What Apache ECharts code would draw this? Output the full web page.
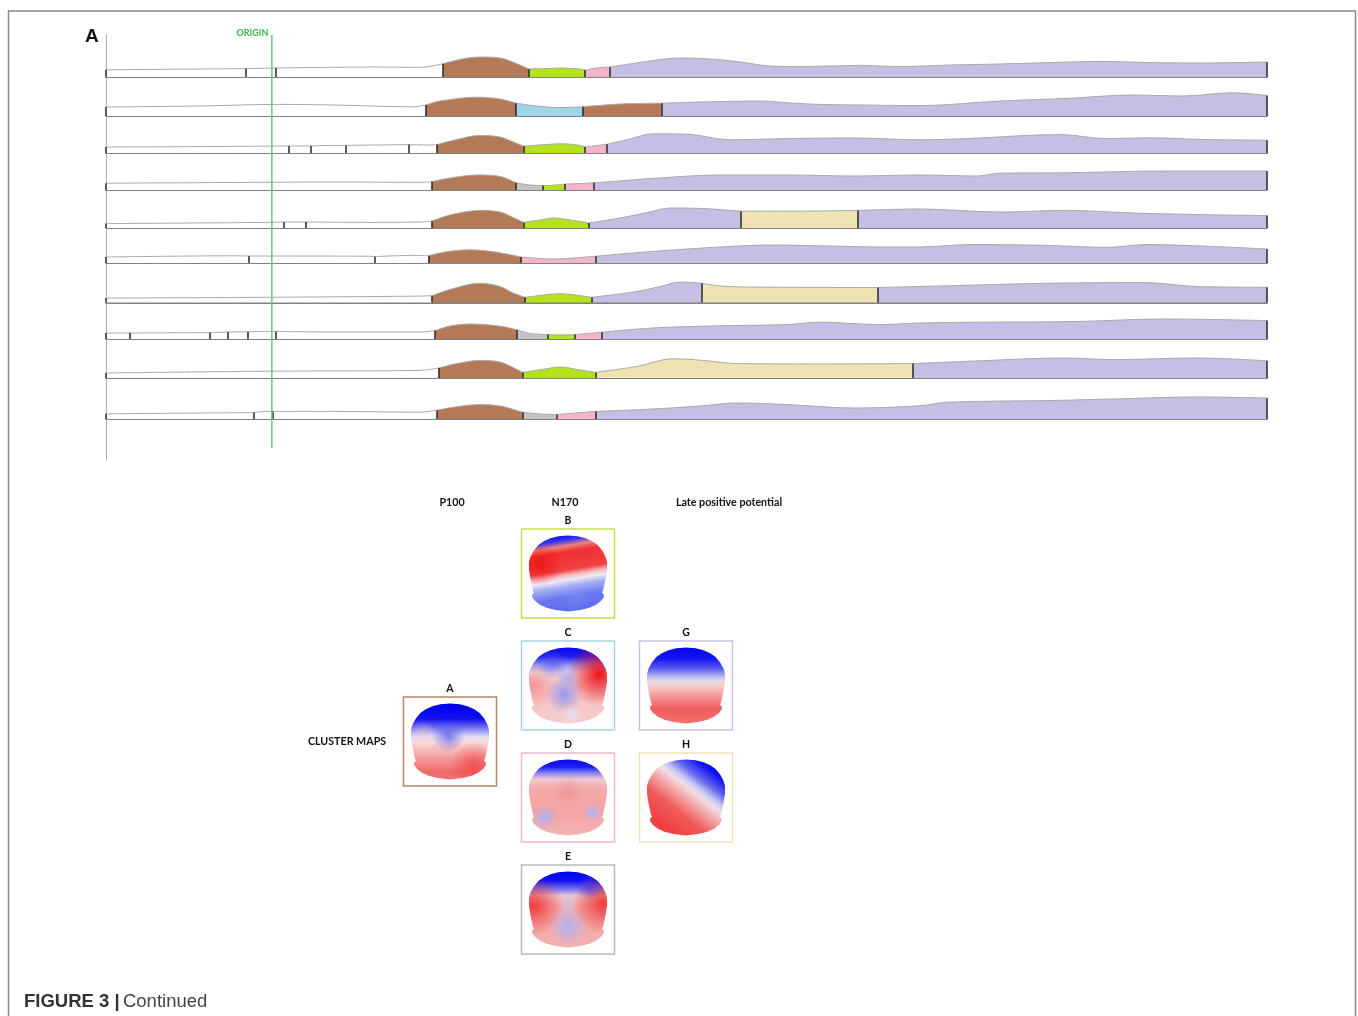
<!DOCTYPE html>
<html>
<head>
<meta charset="utf-8">
<script src="https://cdn.jsdelivr.net/npm/echarts@6/dist/echarts.min.js"></script>
<style>
  html, body { margin: 0; padding: 0; background: #fff; }
  #chart { width: 1358px; height: 1016px; }
</style>
</head>
<body>
<div id="chart"></div>
<script>
// Epoch limits (ms) of the segmented ERP, stimulus onset at 0
const tMin = -100, tMax = 600;

// Global field power per row: [time ms, GFP µV]
const gfp1 = [[-100,1.8],[-43.3,2.0],[-15.6,2.1],[2.5,2.25],[65.2,2.5],[89.3,2.4],[103.2,3.3],[113.4,4.4],[125.5,5.0],[137.6,4.75],[146.6,3.5],[155.0,2.0],[164.7,2.1],[173.7,2.25],[182.8,2.1],[188.8,1.75],[196.0,2.25],[203.9,2.5],[228.0,4.0],[246.1,4.75],[264.2,4.5],[282.3,3.75],[300.3,2.75],[318.4,2.6],[336.5,2.75],[354.6,2.9],[378.7,2.6],[408.9,3.0],[439.0,3.25],[469.2,3.6],[499.3,3.9],[529.5,3.6],[559.6,3.5],[600,3.75]];
const gfp2 = [[-100,2.25],[-43.3,2.5],[4.9,2.9],[36.9,2.75],[85.1,2.3],[92.8,2.75],[101.4,3.75],[123.7,4.7],[137.6,4.25],[147.2,3.2],[161.7,2.4],[173.7,2.1],[187.6,2.3],[209.9,3.0],[235.0,3.2],[250.3,3.4],[270.2,3.6],[294.3,3.75],[312.4,3.25],[330.5,2.9],[354.6,2.75],[390.8,2.6],[439.0,3.75],[479.4,4.4],[519.2,5.25],[549.4,5.0],[579.5,5.8],[600,5.1]];
const gfp3 = [[-100,1.5],[-43.3,1.6],[9.9,1.75],[23.6,1.75],[36.9,1.9],[44.7,1.9],[82.5,2.1],[95.3,2.0],[99.6,2.1],[110.4,3.25],[125.5,4.4],[137.6,4.0],[144.8,2.9],[151.7,1.7],[164.7,2.1],[173.7,2.3],[182.8,2.1],[188.8,1.5],[202.1,2.2],[215.9,3.5],[229.8,4.8],[250.3,4.7],[276.2,3.3],[310.6,3.6],[350.4,3.75],[390.8,3.3],[419.1,3.6],[475.2,4.6],[503.5,3.6],[529.5,3.8],[559.6,3.4],[600,3.2]];
const gfp4 = [[-100,1.7],[-13.2,1.9],[36.9,2.0],[89.3,1.9],[96.6,2.1],[107.4,3.0],[123.7,3.75],[137.6,3.4],[147.2,1.8],[155.6,1.25],[163.3,1.1],[169.5,1.2],[176.7,1.5],[185.8,1.6],[193.8,1.8],[209.9,2.25],[229.8,2.9],[270.2,3.75],[310.6,3.75],[350.4,3.5],[390.8,3.75],[425.1,3.5],[439.0,4.2],[479.4,4.3],[539.7,4.75],[600,4.75]];
const gfp5 = [[-100,1.1],[-2.9,1.4],[7.3,1.5],[20.6,1.5],[57.4,1.4],[89.3,1.5],[96.6,1.75],[107.4,3.25],[125.5,4.4],[137.6,4.0],[144.8,2.75],[151.6,1.4],[161.7,2.0],[169.5,2.5],[179.8,2.0],[191.2,1.25],[209.9,2.5],[228.0,4.0],[240.1,5.0],[258.4,4.9],[270.2,4.6],[283.0,4.2],[310.6,4.2],[353.2,4.4],[390.8,4.75],[439.0,4.0],[479.4,4.4],[519.2,3.75],[565.6,3.3],[600,3.1]];
const gfp6 = [[-100,1.5],[-23.4,1.8],[-13.8,1.75],[57.4,1.7],[62.2,1.6],[86.3,1.9],[94.4,1.8],[104.4,2.75],[119.5,3.3],[134.5,2.75],[150.2,1.5],[169.5,1.0],[195.0,1.7],[229.8,2.9],[270.2,4.0],[300.3,4.5],[330.5,4.3],[366.7,4.0],[390.8,4.0],[420.9,4.6],[467.4,4.4],[503.5,3.9],[527.6,4.6],[557.8,4.3],[600,3.5]];
const gfp7 = [[-100,1.1],[-2.9,1.3],[89.3,1.6],[96.7,1.7],[107.4,3.25],[125.5,4.8],[137.6,4.0],[144.8,2.5],[152.6,1.3],[164.7,1.9],[173.7,2.2],[182.8,1.9],[192.8,1.3],[220.2,2.75],[234.1,4.0],[246.1,5.1],[259.2,4.8],[274.5,4.0],[310.6,3.8],[365.6,3.75],[390.8,4.0],[427.0,4.4],[467.4,4.8],[525.2,5.0],[557.8,4.0],[600,3.8]];
const gfp8 = [[-100,1.5],[-85.5,1.5],[-37.5,1.6],[-26.6,1.75],[-14.6,1.8],[-2.9,1.9],[2.1,1.9],[36.9,1.75],[89.3,1.75],[98.4,2.1],[107.4,3.25],[119.5,3.75],[131.5,3.5],[140.6,3.0],[147.6,2.3],[155.6,1.4],[166.1,1.1],[173.7,1.0],[182.9,1.1],[199.2,1.7],[229.8,2.75],[270.2,3.3],[310.6,3.6],[330.5,4.2],[366.7,3.6],[390.8,4.0],[427.0,4.2],[487.3,4.4],[537.3,5.0],[600,4.6]];
const gfp9 = [[-100,1.25],[-2.9,1.7],[89.3,1.9],[100.6,2.5],[110.4,3.5],[125.5,4.4],[137.6,4.0],[144.8,2.75],[151.2,1.4],[164.7,2.25],[173.7,2.75],[185.8,2.0],[195.4,1.4],[220.2,2.9],[241.9,4.8],[260.0,4.4],[280.4,3.6],[330.5,3.5],[386.7,3.6],[427.0,4.3],[477.0,5.0],[507.1,4.6],[557.8,5.0],[600,4.3]];
const gfp10 = [[-100,1.3],[-11.2,1.6],[-2.9,1.9],[0.7,1.9],[36.9,1.9],[89.3,1.7],[99.6,2.2],[110.4,3.0],[125.5,3.6],[137.6,3.25],[144.8,2.5],[151.0,1.7],[161.7,1.25],[171.5,1.1],[182.8,1.5],[195.0,1.9],[229.8,2.5],[258.4,3.25],[280.4,4.0],[310.6,3.6],[350.4,2.75],[390.8,3.3],[407.0,4.2],[467.4,4.6],[507.1,5.0],[557.8,5.5],[600,5.25]];

// Segments per row: [start ms, cluster map] ('W' = unassigned)
const seg1 = [[-100,'W'],[-15.6,'W'],[2.5,'W'],[103.2,'A'],[155.0,'B'],[188.8,'D'],[203.9,'G']];
const seg2 = [[-100,'W'],[92.8,'A'],[147.2,'C'],[187.6,'A'],[235.0,'G']];
const seg3 = [[-100,'W'],[9.9,'W'],[23.6,'W'],[44.7,'W'],[82.5,'W'],[99.6,'A'],[151.7,'B'],[188.8,'D'],[202.1,'G']];
const seg4 = [[-100,'W'],[96.6,'A'],[147.2,'E'],[163.3,'B'],[176.7,'D'],[193.8,'G']];
const seg5 = [[-100,'W'],[7.3,'W'],[20.6,'W'],[96.6,'A'],[151.6,'B'],[191.2,'G'],[283.0,'H'],[353.2,'G']];
const seg6 = [[-100,'W'],[-13.8,'W'],[62.2,'W'],[94.4,'A'],[150.2,'D'],[195.0,'G']];
const seg7 = [[-100,'W'],[96.7,'A'],[152.6,'B'],[192.8,'G'],[259.2,'H'],[365.6,'G']];
const seg8 = [[-100,'W'],[-85.5,'W'],[-37.5,'W'],[-26.6,'W'],[-14.6,'W'],[2.1,'W'],[98.4,'A'],[147.6,'E'],[166.1,'B'],[182.9,'D'],[199.2,'G']];
const seg9 = [[-100,'W'],[100.6,'A'],[151.2,'B'],[195.4,'H'],[386.7,'G']];
const seg10 = [[-100,'W'],[-11.2,'W'],[0.7,'W'],[99.6,'A'],[151.0,'E'],[171.5,'D'],[195.0,'G']];

// Cluster maps: component column (0 P100, 1 N170, 2 LPP), slot row, name
const mapSlots = [[0,1.5,'A'],[1,0,'B'],[1,1,'C'],[1,2,'D'],[1,3,'E'],[2,1,'G'],[2,2,'H']];

// Scalp topographies: main polarity gradient (axis + stops) and local foci [cx, cy, r, colour]
const topoA = { axis:[0.5,0,0.5,1], stops:[[0,'#0000ee'],[0.2,'#1010f0'],[0.33,'#7c7cf0'],[0.43,'#dcdaf6'],[0.5,'#f8dcdc'],[0.7,'#f4a0a0'],[0.9,'#f06a6a'],[1,'#f07070']],
  foci:[[0.48,0.42,0.22,'rgba(90,90,235,0.75)'],[0.8,0.8,0.3,'rgba(240,40,40,0.55)'],[0.15,0.4,0.18,'rgba(240,200,210,0.5)']] };
const topoB = { axis:[0.42,0,0.58,1], stops:[[0,'#1010f0'],[0.07,'#3a3af0'],[0.14,'#f08080'],[0.22,'#f03030'],[0.45,'#f04040'],[0.52,'#f6b8bc'],[0.58,'#eeeaf4'],[0.66,'#a8b0f4'],[0.8,'#6a78f0'],[1,'#5c6cee']],
  foci:[[0.15,0.38,0.28,'rgba(232,0,0,0.55)'],[0.6,0.82,0.2,'rgba(140,150,240,0.4)']] };
const topoC = { axis:[0.5,0,0.5,1], stops:[[0,'#0606f0'],[0.12,'#2020f0'],[0.24,'#9a9cf2'],[0.33,'#f0d4dc'],[0.5,'#f6c0c4'],[1,'#f6cccc']],
  foci:[[0.9,0.35,0.42,'rgba(236,10,10,0.95)'],[0.05,0.5,0.3,'rgba(240,110,110,0.55)'],[0.45,0.62,0.24,'rgba(140,150,240,0.95)'],[0.5,0.4,0.16,'rgba(160,165,240,0.8)'],[0.55,0.88,0.14,'rgba(225,225,250,0.8)'],[0.3,0.22,0.2,'rgba(90,90,240,0.6)']] };
const topoD = { axis:[0.5,0,0.5,1], stops:[[0,'#0808f0'],[0.1,'#1e1ef0'],[0.18,'#8888f0'],[0.26,'#f0c8d0'],[0.4,'#f4a8a8'],[0.7,'#f4a4a4'],[1,'#f4b4b4']],
  foci:[[0.2,0.76,0.17,'rgba(170,175,245,0.9)'],[0.82,0.7,0.14,'rgba(175,180,245,0.85)'],[0.5,0.4,0.2,'rgba(240,120,120,0.4)']] };
const topoE = { axis:[0.5,0,0.5,1], stops:[[0,'#0000ee'],[0.12,'#1010f0'],[0.22,'#6a6af0'],[0.32,'#e8c8d4'],[0.45,'#f4a8a8'],[1,'#f4b0b0']],
  foci:[[0.05,0.45,0.4,'rgba(238,40,40,0.85)'],[0.95,0.42,0.4,'rgba(238,40,40,0.85)'],[0.5,0.72,0.26,'rgba(170,178,245,0.9)'],[0.5,0.45,0.14,'rgba(200,200,245,0.7)'],[0.78,0.2,0.18,'rgba(60,60,240,0.6)']] };
const topoG = { axis:[0.5,0,0.5,1], stops:[[0,'#0404ee'],[0.14,'#1414f0'],[0.28,'#5c5cf0'],[0.38,'#b8b8f4'],[0.45,'#ecdce8'],[0.52,'#f6c8c8'],[0.65,'#f49494'],[0.82,'#f05c5c'],[1,'#f27272']],
  foci:[] };
const topoH = { axis:[0.95,0.08,0.3,0.95], stops:[[0,'#0000ee'],[0.12,'#1010f0'],[0.28,'#6a6af0'],[0.38,'#c8c8f4'],[0.45,'#f2dde6'],[0.55,'#f4b0b0'],[0.75,'#f05a5a'],[1,'#f04040']],
  foci:[] };

const rowsGfp = [gfp1, gfp2, gfp3, gfp4, gfp5, gfp6, gfp7, gfp8, gfp9, gfp10];
const rowsSeg = [seg1, seg2, seg3, seg4, seg5, seg6, seg7, seg8, seg9, seg10];
const topos = { A: topoA, B: topoB, C: topoC, D: topoD, E: topoE, G: topoG, H: topoH };

// ---- styling and layout ----
const CLUSTER_FILL = { W:'#ffffff', A:'#b47a58', B:'#b4e21e', C:'#9dd6e8', D:'#f6b4cb', E:'#c4c4c4', G:'#c6bee3', H:'#efe3b4' };
const FRAME_COLOR = { A:'#b98763', B:'#c2e04e', C:'#a6d7e4', D:'#f3b6ca', E:'#bdbdbd', G:'#c9c1e2', H:'#eee4b6' };
const ROW_BASE = [77, 116, 153, 190, 228, 263, 302.5, 339, 378, 419];
const PLOT_LEFT = 106, PLOT_RIGHT = 91, ROW_H = 32, GFP_MAX = 8;
const LABEL_FONT = 'Lato';

// half-width of the head outline as a function of vertical position (-1 top .. 1 bottom)
const HEAD_PROFILE = [[-1,0],[-0.98,0.25],[-0.93,0.45],[-0.85,0.62],[-0.75,0.76],[-0.6,0.88],[-0.45,0.96],[-0.3,1.0],[-0.1,1.0],[0.1,0.97],[0.3,0.93],[0.45,0.9],[0.5,0.87],[0.55,0.92],[0.62,0.92],[0.72,0.85],[0.82,0.72],[0.9,0.55],[0.96,0.32],[1,0]];
const HEAD_OUTLINE = HEAD_PROFILE.map(([v, w]) => [w, v])
  .concat(HEAD_PROFILE.slice(1, -1).reverse().map(([v, w]) => [-w, v]));

const grid = [], xAxis = [], yAxis = [], series = [];

rowsGfp.forEach((gfp, i) => {
  grid.push({ left: PLOT_LEFT, right: PLOT_RIGHT, top: ROW_BASE[i] - ROW_H, height: ROW_H });
  xAxis.push({ type: 'value', gridIndex: i, min: tMin, max: tMax,
    axisLine: { show: true, onZero: false, lineStyle: { color: '#5a5a5a', width: 1.5 } },
    axisTick: { show: false }, axisLabel: { show: false }, splitLine: { show: false } });
  yAxis.push({ type: 'value', gridIndex: i, min: 0, max: GFP_MAX, show: false });

  const seg = rowsSeg[i];
  const edges = [];
  seg.forEach((s, j) => {
    const start = s[0];
    const end = j + 1 < seg.length ? seg[j + 1][0] : tMax;
    const data = gfp.filter(p => p[0] >= start - 1e-9 && p[0] <= end + 1e-9);
    series.push({
      type: 'line', xAxisIndex: i, yAxisIndex: i, data, smooth: 0.35,
      symbol: 'none', silent: true, z: 2,
      lineStyle: { color: '#a9a9a9', width: 1 },
      areaStyle: { color: CLUSTER_FILL[s[1]], opacity: 1 }
    });
    edges.push(start);
  });
  edges.push(tMax);
  const heightAt = t => gfp.reduce((a, p) => Math.abs(p[0] - t) < Math.abs(a[0] - t) ? p : a)[1];
  series.push({
    type: 'line', xAxisIndex: i, yAxisIndex: i, data: gfp, symbol: 'none', silent: true, z: 4,
    lineStyle: { opacity: 0 },
    markLine: {
      silent: true, symbol: ['none', 'none'], label: { show: false }, emphasis: { disabled: true },
      lineStyle: { color: '#262626', width: 1.5, type: 'solid' },
      data: edges.map(t => [{ coord: [t, 0] }, { coord: [t, heightAt(t)] }])
    }
  });
});

// shared time axis line on the left
const AX = grid.length;
grid.push({ left: PLOT_LEFT, right: PLOT_RIGHT, top: 35, height: 425 });
xAxis.push({ type: 'value', gridIndex: AX, min: tMin, max: tMax, show: false });
yAxis.push({ type: 'value', gridIndex: AX, min: 0, max: 1,
  axisLine: { show: true, onZero: false, lineStyle: { color: '#b0b0b0', width: 1 } },
  axisTick: { show: false }, axisLabel: { show: false }, splitLine: { show: false } });

// stimulus onset
const OR = grid.length;
grid.push({ left: PLOT_LEFT, right: PLOT_RIGHT, top: 35, height: 413 });
xAxis.push({ type: 'value', gridIndex: OR, min: tMin, max: tMax, show: false });
yAxis.push({ type: 'value', gridIndex: OR, min: 0, max: 1, show: false });
series.push({
  type: 'line', xAxisIndex: OR, yAxisIndex: OR, data: [[0, 0], [0, 1]], symbol: 'none', silent: true, z: 6,
  lineStyle: { color: '#62cc76', width: 1.5 },
  markPoint: {
    symbol: 'circle', symbolSize: 1, itemStyle: { color: 'rgba(0,0,0,0)' }, silent: true,
    label: { show: true, position: 'left', distance: 3, formatter: 'ORIGIN', offset: [0, -2],
      color: '#3db54e', fontSize: 9, fontWeight: 'bold', fontFamily: LABEL_FONT },
    data: [{ coord: [0, 1] }]
  }
});

// cluster maps
const MG = grid.length;
grid.push({ left: 391, top: 517.5, width: 354, height: 448 });
xAxis.push({ type: 'value', gridIndex: MG, min: -0.5, max: 2.5, show: false });
yAxis.push({ type: 'value', gridIndex: MG, min: -0.5, max: 3.5, inverse: true, show: false });

const transparent = c => c.replace(/[\d.]+\)$/, '0)');
series.push({
  type: 'custom', xAxisIndex: MG, yAxisIndex: MG, silent: true,
  data: mapSlots.map(s => [s[0], s[1]]),
  renderItem: (params, api) => {
    const key = mapSlots[params.dataIndex][2];
    const topo = topos[key];
    const c = api.coord([api.value(0), api.value(1)]);
    const fw = 93, fh = 89, hw = 39, hh = 38;
    const pts = HEAD_OUTLINE.map(([u, v]) => [c[0] + u * hw, c[1] + v * hh]);
    const a = topo.axis;
    const children = [
      { type: 'rect', shape: { x: c[0] - fw / 2, y: c[1] - fh / 2, width: fw, height: fh },
        style: { fill: '#fff', stroke: FRAME_COLOR[key], lineWidth: 1.5 } },
      { type: 'polygon', shape: { points: pts },
        style: { fill: new echarts.graphic.LinearGradient(a[0], a[1], a[2], a[3],
          topo.stops.map(s => ({ offset: s[0], color: s[1] }))) } }
    ];
    topo.foci.forEach(f => {
      children.push({ type: 'polygon', shape: { points: pts },
        style: { fill: new echarts.graphic.RadialGradient(f[0], f[1], f[2],
          [{ offset: 0, color: f[3] }, { offset: 1, color: transparent(f[3]) }]) } });
    });
    children.push({ type: 'text', style: { text: key, x: c[0], y: c[1] - fh / 2 - 8,
      align: 'center', verticalAlign: 'middle', fontSize: 10.5, fontWeight: 'bold',
      fontFamily: LABEL_FONT, fill: '#111' } });
    return { type: 'group', children };
  }
});

const headerText = (text, x, y, align) => ({
  type: 'text', silent: true,
  style: { text, x, y, align: align || 'center', verticalAlign: 'middle',
    fontSize: 10.7, fontWeight: 'bold', fontFamily: LABEL_FONT, fill: '#111' }
});

const chart = echarts.init(document.getElementById('chart'), null, { renderer: 'canvas' });
chart.setOption({
  animation: false,
  backgroundColor: '#ffffff',
  grid, xAxis, yAxis, series,
  graphic: [
    { type: 'rect', silent: true, z: -10, shape: { x: 8.5, y: 11, width: 1347, height: 1040 },
      style: { fill: 'none', stroke: '#8a8a8a', lineWidth: 1.5 } },
    { type: 'text', silent: true, style: { text: 'A', x: 85, y: 37, verticalAlign: 'middle',
      fontSize: 19, fontWeight: 'bold', fontFamily: 'Liberation Sans', fill: '#111' } },
    headerText('P100', 452, 503),
    headerText('N170', 565, 503),
    headerText('Late positive potential', 729, 503),
    headerText('CLUSTER MAPS', 347, 742),
    { type: 'text', silent: true, style: { text: '{b|FIGURE 3 |} {r|Continued}', x: 24, y: 1002,
      verticalAlign: 'middle',
      rich: {
        b: { fontFamily: 'Liberation Sans', fontWeight: 'bold', fontSize: 18.5, fill: '#333' },
        r: { fontFamily: 'Liberation Sans', fontSize: 18.5, fill: '#444' }
      } } }
  ]
});
</script>
</body>
</html>
